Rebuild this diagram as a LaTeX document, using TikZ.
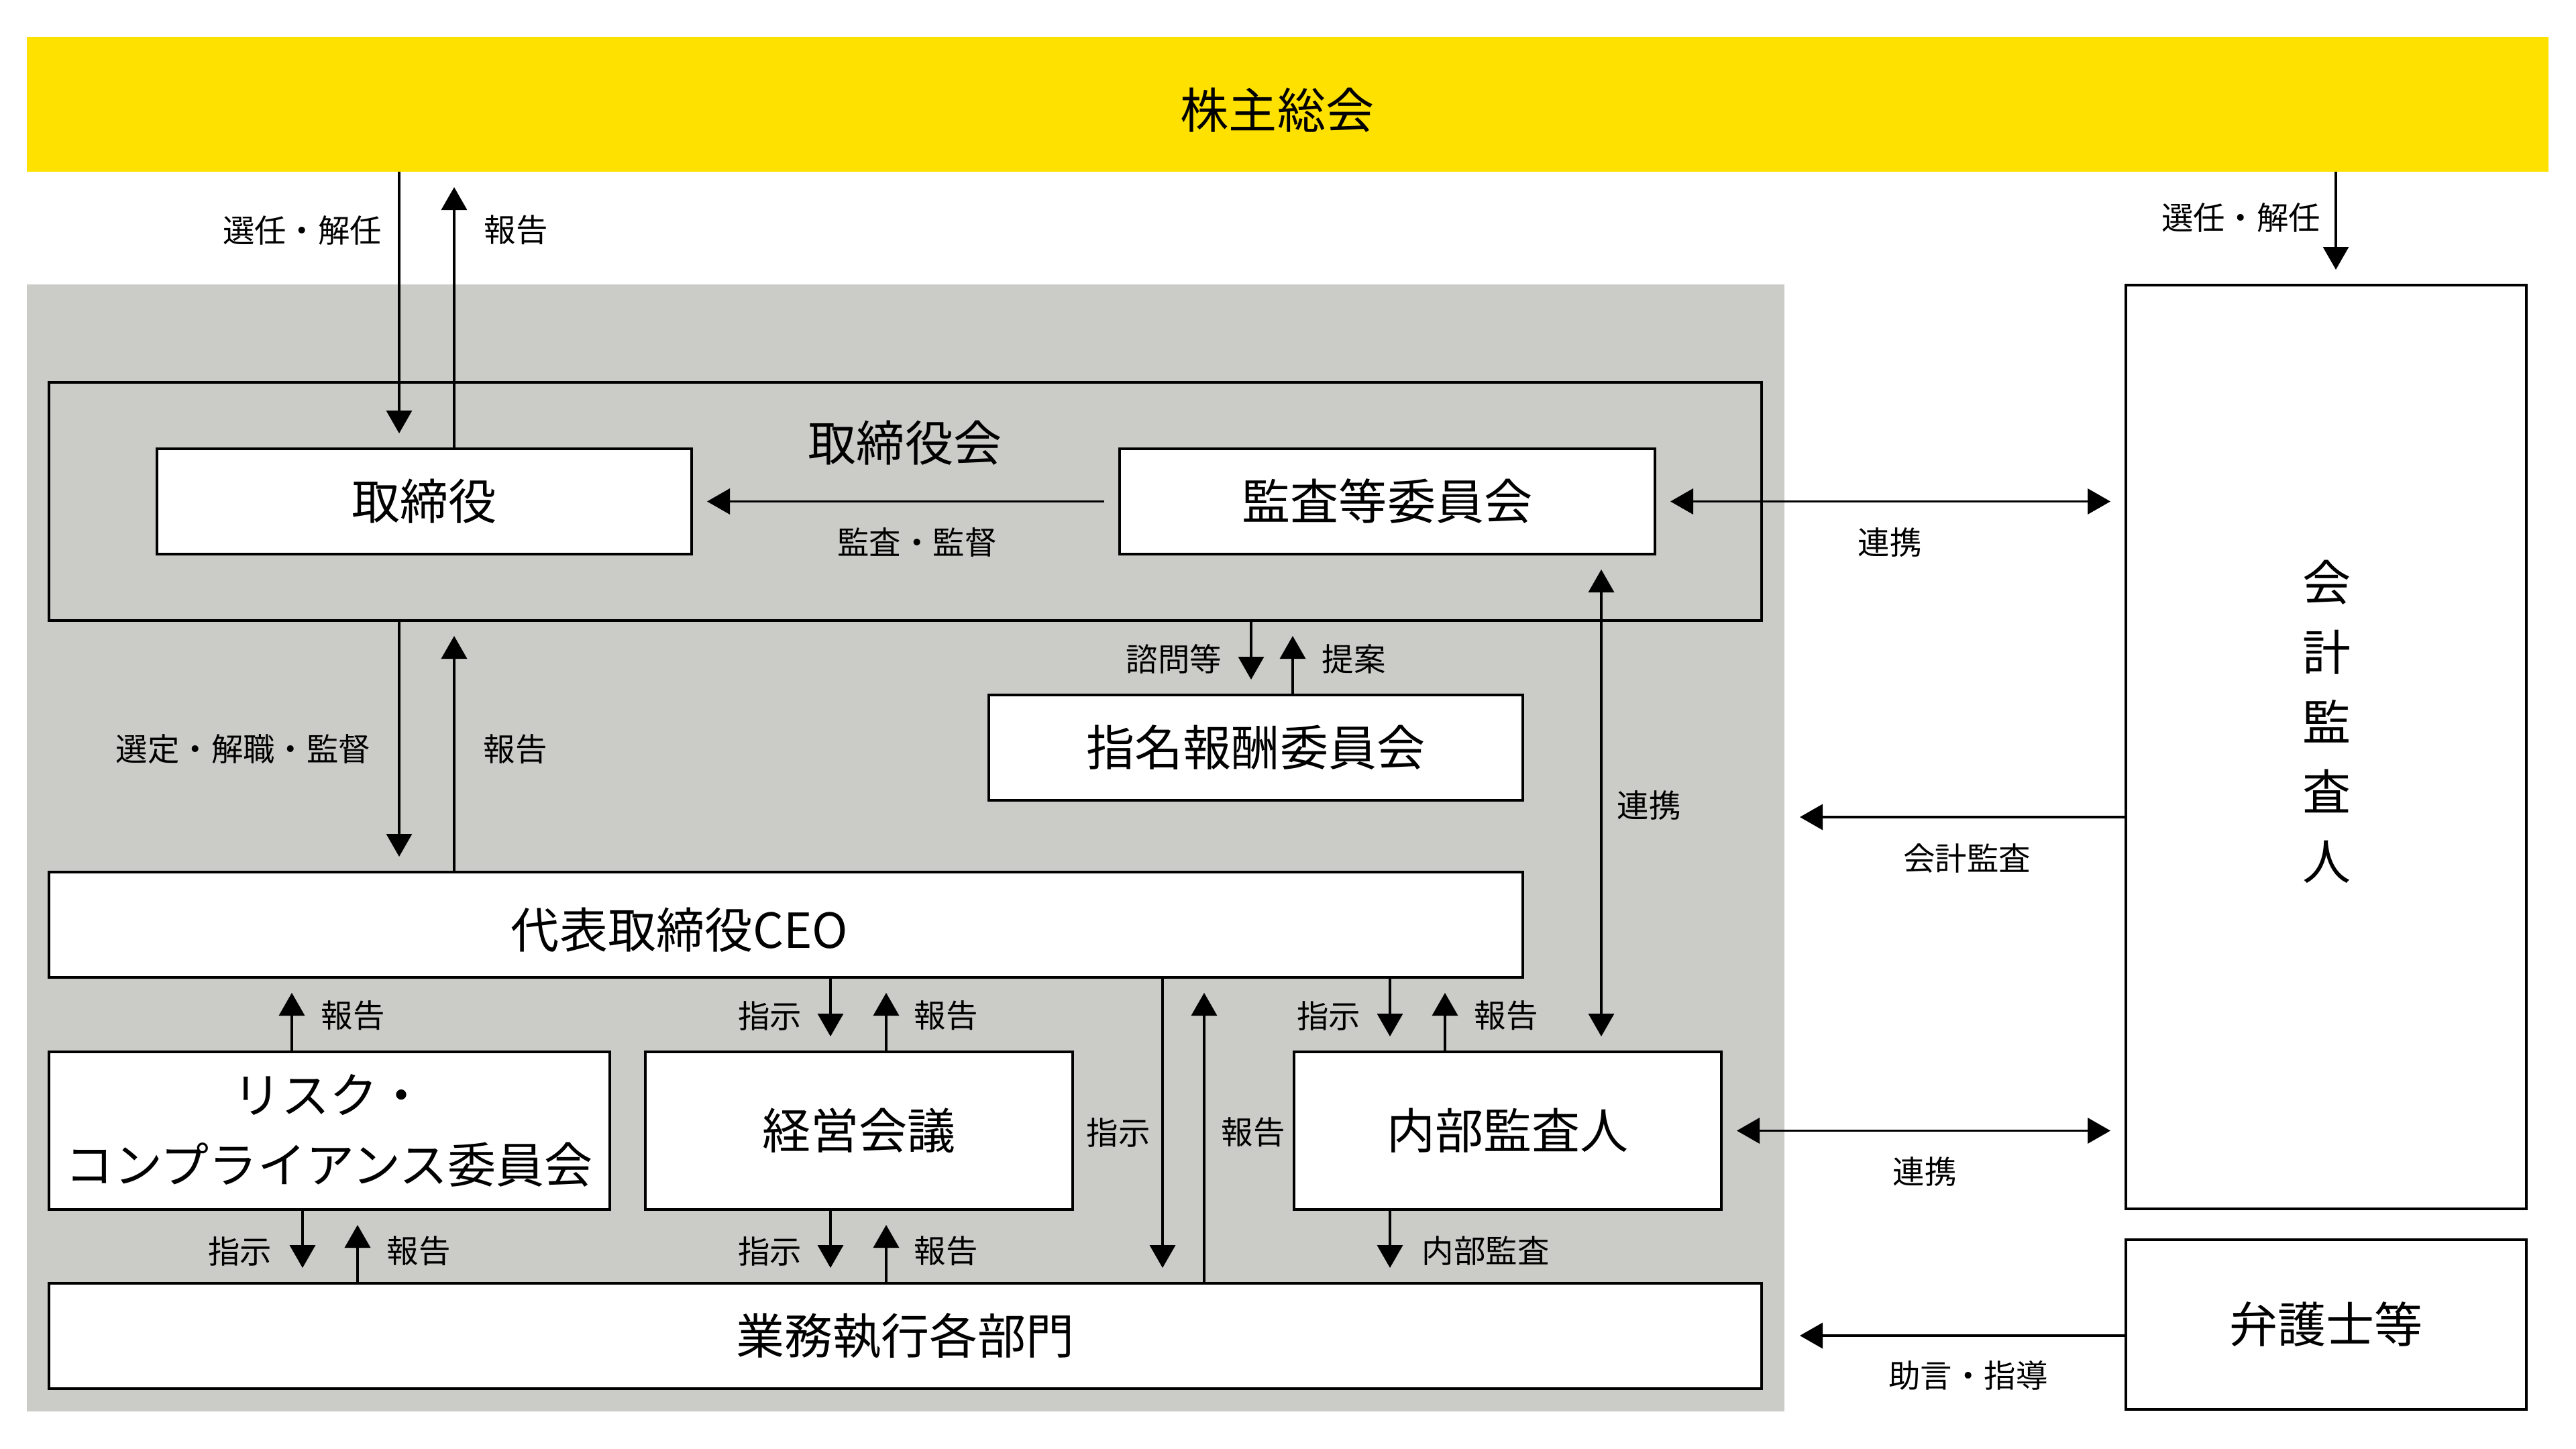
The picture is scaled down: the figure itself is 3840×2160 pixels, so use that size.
\documentclass[tikz,border=0pt]{standalone}
\usepackage{fontspec}
\setmainfont{Noto Sans CJK JP}
\usepackage{tikz}
\usetikzlibrary{arrows.meta}
\definecolor{GMYellow}{RGB}{255,225,0}
\definecolor{ExecGray}{RGB}{203,204,200}
\newcommand{\boxfont}{\fontsize{20.5pt}{29.6pt}\selectfont}
\newcommand{\notefont}{\fontsize{13.5pt}{16pt}\selectfont}

\begin{document}
\begin{tikzpicture}[x=0.1mm,y=-0.1mm]
  \tikzset{BoxStyle/.style = {
    shape         = rectangle,
    draw          = black,
    fill          = white,
    line width    = 1.4pt,
    text          = black,
    inner sep     = 0pt,
    outer sep     = 0pt,
    align         = center,
    font          = \boxfont
    }
  }
  \tikzset{NoteStyle/.style = {
    inner sep     = 0pt,
    text          = black,
    font          = \notefont
    }
  }
  \tikzset{ArrowStyle/.style = {
    draw          = black,
    line width    = 1pt,
    -{Triangle[length=3.4mm,width=3.8mm]},
    shorten >     = 2.3mm
    }
  }
  \tikzset{BothStyle/.style = {
    ArrowStyle,
    {Triangle[length=3.4mm,width=3.8mm]}-{Triangle[length=3.4mm,width=3.8mm]},
    shorten <     = 2.3mm
    }
  }

	\fill[white] (0,0) rectangle (3840,2160);
	\node[BoxStyle, draw=none, fill=ExecGray, minimum width=262mm, minimum height=168mm](EX) at (1350,1264) {};
	\node[BoxStyle, draw=none, fill=GMYellow, minimum width=375.9mm, minimum height=20.1mm](GM) at (1919.5,155.5) {};
	\node[BoxStyle, draw=none, fill=none](GMT) at (1904,164) {株主総会};
	\node[BoxStyle, fill=none, minimum width=255.3mm, minimum height=35.5mm](BD) at (1349.5,747.5) {};
	\node[BoxStyle, draw=none, fill=none](BDT) at (1349,660) {取締役会};
	\node[BoxStyle, minimum width=79.7mm, minimum height=15.7mm](DIR) at (632.5,747.5) {取締役};
	\node[BoxStyle, minimum width=79.8mm, minimum height=15.7mm](AC) at (2068,747.5) {監査等委員会};
	\node[BoxStyle, minimum width=79.6mm, minimum height=15.7mm](NR) at (1872,1114.5) {指名報酬委員会};
	\node[BoxStyle, minimum width=219.7mm, minimum height=15.7mm](CEO) at (1171.5,1378.5) {};
	\node[BoxStyle, draw=none, fill=none](CEOT) at (1013,1386) {代表取締役CEO};
	\node[BoxStyle, minimum width=83.6mm, minimum height=23.5mm](RC) at (491,1685.5) {リスク・\\コンプライアンス委員会};
	\node[BoxStyle, minimum width=63.7mm, minimum height=23.5mm](MC) at (1280.5,1685.5) {経営会議};
	\node[BoxStyle, minimum width=63.7mm, minimum height=23.5mm](IA) at (2247.5,1685.5) {内部監査人};
	\node[BoxStyle, minimum width=255.3mm, minimum height=15.7mm](OP) at (1349.5,1991.5) {業務執行各部門};
	\node[BoxStyle, minimum width=59.7mm, minimum height=137.7mm](EA) at (3467.5,1113.5) {};
	\node[BoxStyle, draw=none, fill=none](EAT) at (3468,1076) {会\\計\\監\\査\\人};
	\node[BoxStyle, minimum width=59.7mm, minimum height=25.3mm](LW) at (3467.5,1974.5) {弁護士等};

	\draw[ArrowStyle](GM.south -| 595,0) to (DIR.north -| 595,0);
	\draw[ArrowStyle](DIR.north -| 677,0) to (GM.south -| 677,0);
	\draw[ArrowStyle, shorten <=2.3mm](AC.west) to (DIR.east);
	\draw[BothStyle](AC.east) to (EA.west |- AC.east);
	\draw[ArrowStyle](GM.south -| 3482,0) to (EA.north -| 3482,0);
	\draw[ArrowStyle](BD.south -| 1865,0) to (NR.north -| 1865,0);
	\draw[ArrowStyle](NR.north -| 1927,0) to (BD.south -| 1927,0);
	\draw[BothStyle](AC.south -| 2387,0) to (IA.north -| 2387,0);
	\draw[ArrowStyle](BD.south -| 595,0) to (CEO.north -| 595,0);
	\draw[ArrowStyle](CEO.north -| 677,0) to (BD.south -| 677,0);
	\draw[ArrowStyle](RC.north -| 435,0) to (CEO.south -| 435,0);
	\draw[ArrowStyle](CEO.south -| 1238,0) to (MC.north -| 1238,0);
	\draw[ArrowStyle](MC.north -| 1321,0) to (CEO.south -| 1321,0);
	\draw[ArrowStyle](CEO.south -| 1733,0) to (OP.north -| 1733,0);
	\draw[ArrowStyle](OP.north -| 1795,0) to (CEO.south -| 1795,0);
	\draw[ArrowStyle](CEO.south -| 2072,0) to (IA.north -| 2072,0);
	\draw[ArrowStyle](IA.north -| 2154,0) to (CEO.south -| 2154,0);
	\draw[BothStyle](IA.east) to (EA.west |- IA.east);
	\draw[ArrowStyle](EA.west |- 0,1218) to (EX.east |- 0,1218);
	\draw[ArrowStyle](LW.west |- 0,1991) to (EX.east |- 0,1991);
	\draw[ArrowStyle](IA.south -| 2072,0) to (OP.north -| 2072,0);
	\draw[ArrowStyle](RC.south -| 451,0) to (OP.north -| 451,0);
	\draw[ArrowStyle](OP.north -| 533,0) to (RC.south -| 533,0);
	\draw[ArrowStyle](MC.south -| 1238,0) to (OP.north -| 1238,0);
	\draw[ArrowStyle](OP.north -| 1321,0) to (MC.south -| 1321,0);

	\node[NoteStyle, anchor=east](N1) at (570,343) {選任・解任};
	\node[NoteStyle, anchor=west](N2) at (721,343) {報告};
	\node[NoteStyle](N3) at (1367,808) {監査・監督};
	\node[NoteStyle](N4) at (2817,809) {連携};
	\node[NoteStyle, anchor=east](N5) at (3460,324) {選任・解任};
	\node[NoteStyle, anchor=east](N6) at (1822,982) {諮問等};
	\node[NoteStyle, anchor=west](N7) at (1970,982) {提案};
	\node[NoteStyle, anchor=west](N8) at (2410,1201) {連携};
	\node[NoteStyle, anchor=east](N9) at (553,1117) {選定・解職・監督};
	\node[NoteStyle, anchor=west](N10) at (720,1117) {報告};
	\node[NoteStyle, anchor=west](N11) at (478,1514) {報告};
	\node[NoteStyle, anchor=east](N12) at (1196,1514) {指示};
	\node[NoteStyle, anchor=west](N13) at (1362,1514) {報告};
	\node[NoteStyle, anchor=west](N14) at (1619,1688) {指示};
	\node[NoteStyle, anchor=west](N15) at (1820,1688) {報告};
	\node[NoteStyle, anchor=east](N16) at (2029,1514) {指示};
	\node[NoteStyle, anchor=west](N17) at (2197,1514) {報告};
	\node[NoteStyle](N18) at (2869,1747) {連携};
	\node[NoteStyle](N19) at (2932,1280) {会計監査};
	\node[NoteStyle](N20) at (2934,2050) {助言・指導};
	\node[NoteStyle, anchor=west](N21) at (2119,1865) {内部監査};
	\node[NoteStyle, anchor=east](N22) at (406,1865) {指示};
	\node[NoteStyle, anchor=west](N23) at (576,1865) {報告};
	\node[NoteStyle, anchor=east](N24) at (1196,1865) {指示};
	\node[NoteStyle, anchor=west](N25) at (1362,1865) {報告};
\end{tikzpicture}
\end{document}
